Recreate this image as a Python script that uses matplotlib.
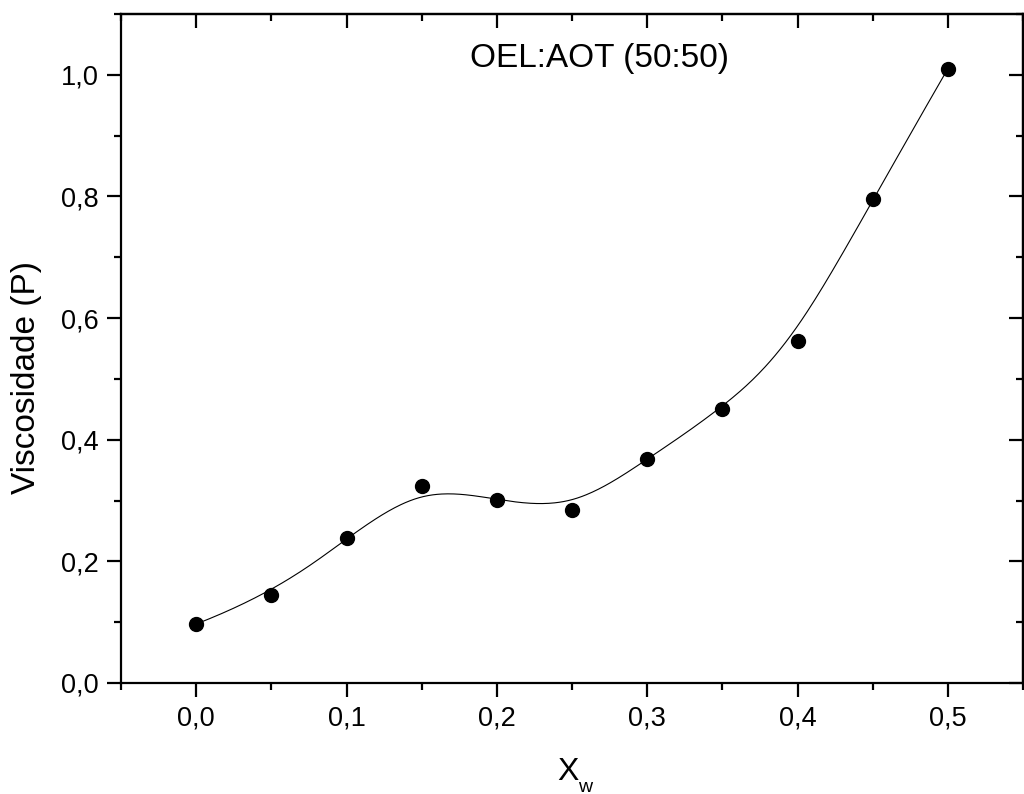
import numpy as np
import matplotlib
matplotlib.use("Agg")
import matplotlib.pyplot as plt
from matplotlib.ticker import MultipleLocator, FuncFormatter

plt.rcParams['font.family'] = ['Liberation Sans', 'DejaVu Sans']

# Water fraction and measured viscosity
x_w = [0.00, 0.05, 0.10, 0.15, 0.20, 0.25, 0.30, 0.35, 0.40, 0.45, 0.50]
viscosity = [0.097, 0.145, 0.238, 0.324, 0.301, 0.285, 0.368, 0.451, 0.562, 0.796, 1.010]


def bspline(px, py, degree=3, n=400):
    """Clamped uniform B-spline using the data points as control points."""
    pts = np.column_stack([px, py])
    m = len(pts)
    k = degree
    inner = np.linspace(0, 1, m - k + 1)
    knots = np.concatenate([np.zeros(k), inner, np.ones(k)])
    t = np.linspace(0, 1, n)
    t[-1] = 1 - 1e-12
    out = np.zeros((n, 2))
    for j, tt in enumerate(t):
        # Cox-de Boor recursion
        N = np.array([1.0 if knots[i] <= tt < knots[i + 1] else 0.0
                      for i in range(len(knots) - 1)])
        for d in range(1, k + 1):
            Nn = np.zeros(len(knots) - 1 - d)
            for i in range(len(Nn)):
                a = 0.0
                if knots[i + d] != knots[i]:
                    a = (tt - knots[i]) / (knots[i + d] - knots[i]) * N[i]
                b = 0.0
                if knots[i + d + 1] != knots[i + 1]:
                    b = (knots[i + d + 1] - tt) / (knots[i + d + 1] - knots[i + 1]) * N[i + 1]
                Nn[i] = a + b
            N = Nn
        out[j] = N @ pts
    return out[:, 0], out[:, 1]


W, H = 1024, 794
fig = plt.figure(figsize=(W / 100, H / 100), dpi=100)
ax = fig.add_axes([121 / W, 1 - 683 / H, (1023 - 121) / W, (683 - 14) / H])

sx, sy = bspline(x_w, viscosity)
ax.plot(sx, sy, color='black', lw=0.8, zorder=2)
ax.plot(x_w, viscosity, 'o', color='black', ms=10, zorder=3)

ax.set_xlim(-0.05, 0.55)
ax.set_ylim(0.0, 1.1)

ax.xaxis.set_major_locator(MultipleLocator(0.1))
ax.xaxis.set_minor_locator(MultipleLocator(0.05))
ax.yaxis.set_major_locator(MultipleLocator(0.2))
ax.yaxis.set_minor_locator(MultipleLocator(0.1))

comma = FuncFormatter(lambda v, p: f"{v:.1f}".replace('.', ','))
ax.xaxis.set_major_formatter(comma)
ax.yaxis.set_major_formatter(comma)

for s in ax.spines.values():
    s.set_linewidth(1.6)

ax.tick_params(which='both', direction='out', width=1.6, labelsize=19.5,
               top=False, right=False)
ax.tick_params(which='major', length=10)
ax.tick_params(which='minor', length=5)
ax.tick_params(axis='x', pad=6)
ax.tick_params(axis='y', pad=6)

# Inward ticks on top and right
ax_t = ax.secondary_xaxis('top')
ax_t.xaxis.set_major_locator(MultipleLocator(0.1))
ax_t.xaxis.set_minor_locator(MultipleLocator(0.05))
ax_t.tick_params(which='both', direction='in', width=1.6, labeltop=False)
ax_t.tick_params(which='major', length=10)
ax_t.tick_params(which='minor', length=5)
ax_t.spines['top'].set_linewidth(1.6)

ax_r = ax.secondary_yaxis('right')
ax_r.yaxis.set_major_locator(MultipleLocator(0.2))
ax_r.yaxis.set_minor_locator(MultipleLocator(0.1))
ax_r.tick_params(which='both', direction='in', width=1.6, labelright=False)
ax_r.tick_params(which='major', length=10)
ax_r.tick_params(which='minor', length=5)
ax_r.spines['right'].set_linewidth(1.6)

# Axis titles
fig.text(27 / W, 1 - 378 / H, 'Viscosidade (P)', rotation=90, fontsize=24,
         ha='center', va='center')
fig.text(557 / W, 1 - 780 / H, 'X', fontsize=23, ha='left', va='baseline')
fig.text(578 / W, 1 - 792 / H, 'w', fontsize=14, ha='left', va='baseline')

ax.text(0.387, 0.934, 'OEL:AOT (50:50)', transform=ax.transAxes,
        ha='left', va='center', fontsize=24)

fig.savefig('out.png', dpi=100)
